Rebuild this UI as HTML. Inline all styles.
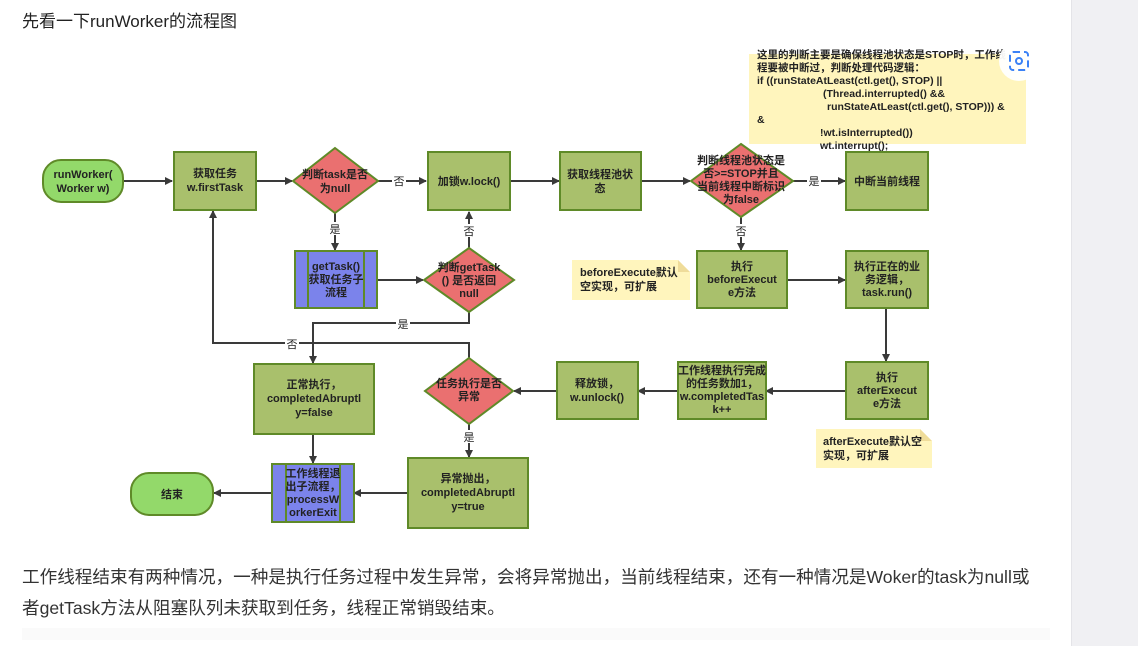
<!DOCTYPE html>
<html><head><meta charset="utf-8"><style>
html,body{margin:0;padding:0;background:#fff;width:1138px;height:646px;overflow:hidden;font-family:"Liberation Sans","Noto Sans CJK SC",sans-serif;}
.side{position:absolute;left:1071px;top:0;width:67px;height:646px;background:#f0f0f3;border-left:1px solid #e4e4e8;}
.title{position:absolute;left:22px;top:7px;font-size:17px;color:#222;white-space:nowrap;}
.p{position:absolute;left:22px;font-size:17.6px;color:#333;white-space:nowrap;}
.foot{position:absolute;left:22px;top:628px;width:1028px;height:12px;background:#fafafa;}
svg{position:absolute;left:0;top:0;}
svg text{font-family:"Liberation Sans","Noto Sans CJK SC",sans-serif;font-size:11px;font-weight:bold;fill:#222;text-anchor:middle;}
.b{fill:#a9c06c;stroke:#5f8a28;stroke-width:2;}
.d{fill:#ea7070;stroke:#5f8a28;stroke-width:2;}
.u{fill:#7b83eb;stroke:#5f8a28;stroke-width:2;}
.s{fill:#93d96a;stroke:#5f8a28;stroke-width:2;}
.n{fill:#fff5bd;}
.l{stroke:#3a3a3a;stroke-width:2;fill:none;marker-end:url(#a);}
.lb{font-weight:normal !important;font-size:11px;}
</style></head><body>
<div class="side"></div>
<div class="title">先看一下runWorker的流程图</div>
<svg width="1138" height="646" viewBox="0 0 1138 646">
<defs><marker id="a" markerWidth="8" markerHeight="8" refX="7" refY="4" orient="auto" markerUnits="userSpaceOnUse"><path d="M0,0 L8,4 L0,8 z" fill="#3a3a3a"/></marker></defs>
<!-- note -->
<rect class="n" x="749" y="54" width="277" height="90"/>
<g style="font-size:10.5px">
<text x="757" y="58" style="text-anchor:start;font-size:10.5px">这里的判断主要是确保线程池状态是STOP时，工作线</text>
<text x="757" y="71" style="text-anchor:start;font-size:10.5px">程要被中断过，判断处理代码逻辑：</text>
<text x="757" y="84" style="text-anchor:start;font-size:10.5px">if ((runStateAtLeast(ctl.get(), STOP) ||</text>
<text x="823" y="97" style="text-anchor:start;font-size:10.5px">(Thread.interrupted() &amp;&amp;</text>
<text x="827" y="110" style="text-anchor:start;font-size:10.5px">runStateAtLeast(ctl.get(), STOP))) &amp;</text>
<text x="757" y="123" style="text-anchor:start;font-size:10.5px">&amp;</text>
<text x="820" y="136" style="text-anchor:start;font-size:10.5px">!wt.isInterrupted())</text>
<text x="820" y="149" style="text-anchor:start;font-size:10.5px">wt.interrupt();</text>
</g>
<circle cx="1019" cy="61" r="20" fill="#fff" opacity="0.95"/>
<rect x="1010" y="52" width="18" height="18" rx="3" fill="none" stroke="#3b82f6" stroke-width="2" stroke-dasharray="7 4"/>
<circle cx="1019" cy="61" r="3" fill="none" stroke="#3b82f6" stroke-width="2"/>
<!-- connectors -->
<path class="l" d="M123,181 H172"/>
<path class="l" d="M256,181 H292"/>
<path class="l" d="M378,181 H426"/>
<path class="l" d="M510,181 H559"/>
<path class="l" d="M641,181 H690"/>
<path class="l" d="M793,181 H845"/>
<path class="l" d="M335,213 V250"/>
<path class="l" d="M377,280 H423"/>
<path class="l" d="M469,248 V212"/>
<path class="l" d="M741,217 V250"/>
<path class="l" d="M787,280 H845"/>
<path class="l" d="M886,308 V361"/>
<path class="l" d="M846,391 H766"/>
<path class="l" d="M678,391 H638"/>
<path class="l" d="M557,391 H514"/>
<path class="l" d="M469,312 V323 H313 V363"/>
<path class="l" d="M469,358 V343 H213 V211"/>
<path class="l" d="M469,422 V457"/>
<path class="l" d="M313,434 V463"/>
<path class="l" d="M408,493 H354"/>
<path class="l" d="M272,493 H214"/>
<!-- labels on lines -->
<rect x="392" y="174" width="14" height="13" fill="#fff"/><text class="lb" x="399" y="185">否</text>
<rect x="328" y="222" width="14" height="13" fill="#fff"/><text class="lb" x="335" y="233">是</text>
<rect x="462" y="224" width="14" height="13" fill="#fff"/><text class="lb" x="469" y="235">否</text>
<rect x="734" y="224" width="14" height="13" fill="#fff"/><text class="lb" x="741" y="235">否</text>
<rect x="807" y="174" width="14" height="13" fill="#fff"/><text class="lb" x="814" y="185">是</text>
<rect x="396" y="317" width="14" height="13" fill="#fff"/><text class="lb" x="403" y="328">是</text>
<rect x="285" y="337" width="14" height="13" fill="#fff"/><text class="lb" x="292" y="348">否</text>
<rect x="462" y="430" width="14" height="13" fill="#fff"/><text class="lb" x="469" y="441">是</text>
<!-- nodes -->
<rect class="s" x="43" y="160" width="80" height="42" rx="18"/>
<text x="83" y="178">runWorker(</text><text x="83" y="192">Worker w)</text>
<rect class="b" x="174" y="152" width="82" height="58"/>
<text x="215" y="177">获取任务</text><text x="215" y="191">w.firstTask</text>
<polygon class="d" points="335,148 378,181 335,213 293,181"/>
<text x="335" y="178">判断task是否</text><text x="335" y="192">为null</text>
<rect class="b" x="428" y="152" width="82" height="58"/>
<text x="469" y="185">加锁w.lock()</text>
<rect class="b" x="560" y="152" width="81" height="58"/>
<text x="600" y="178">获取线程池状</text><text x="600" y="192">态</text>
<polygon class="d" points="741,144 793,181 741,217 691,181"/>
<text x="741" y="164">判断线程池状态是</text><text x="741" y="177">否&gt;=STOP并且</text><text x="741" y="190">当前线程中断标识</text><text x="741" y="203">为false</text>
<rect class="b" x="846" y="152" width="82" height="58"/>
<text x="887" y="185">中断当前线程</text>
<rect class="u" x="295" y="251" width="82" height="57"/>
<line x1="308" y1="251" x2="308" y2="308" stroke="#5f8a28" stroke-width="2"/>
<line x1="364" y1="251" x2="364" y2="308" stroke="#5f8a28" stroke-width="2"/>
<text x="336" y="270">getTask()</text><text x="336" y="283">获取任务子</text><text x="336" y="296">流程</text>
<polygon class="d" points="469,248 514,280 469,312 424,280"/>
<text x="469" y="271">判断getTask</text><text x="469" y="284">() 是否返回</text><text x="469" y="297">null</text>
<path d="M572,260 H678 L690,272 V300 H572 Z" class="n"/>
<path d="M678,260 L690,272 H678 Z" fill="#efdc9a"/>
<text x="580" y="276" style="text-anchor:start">beforeExecute默认</text><text x="580" y="290" style="text-anchor:start">空实现，可扩展</text>
<rect class="b" x="697" y="251" width="90" height="57"/>
<text x="742" y="270">执行</text><text x="742" y="283">beforeExecut</text><text x="742" y="296">e方法</text>
<rect class="b" x="846" y="251" width="82" height="57"/>
<text x="887" y="270">执行正在的业</text><text x="887" y="283">务逻辑，</text><text x="887" y="296">task.run()</text>
<rect class="b" x="846" y="362" width="82" height="57"/>
<text x="887" y="381">执行</text><text x="887" y="394">afterExecut</text><text x="887" y="407">e方法</text>
<rect class="b" x="678" y="362" width="88" height="57"/>
<text x="722" y="374">工作线程执行完成</text><text x="722" y="387">的任务数加1，</text><text x="722" y="400">w.completedTas</text><text x="722" y="413">k++</text>
<rect class="b" x="557" y="362" width="81" height="57"/>
<text x="597" y="387">释放锁，</text><text x="597" y="401">w.unlock()</text>
<polygon class="d" points="469,358 513,391 469,424 425,391"/>
<text x="469" y="387">任务执行是否</text><text x="469" y="400">异常</text>
<rect class="b" x="254" y="364" width="120" height="70"/>
<text x="314" y="388">正常执行，</text><text x="314" y="402">completedAbruptl</text><text x="314" y="416">y=false</text>
<path d="M816,429 H920 L932,441 V468 H816 Z" class="n"/>
<path d="M920,429 L932,441 H920 Z" fill="#efdc9a"/>
<text x="823" y="445" style="text-anchor:start">afterExecute默认空</text><text x="823" y="459" style="text-anchor:start">实现，可扩展</text>
<rect class="b" x="408" y="458" width="120" height="70"/>
<text x="468" y="482">异常抛出，</text><text x="468" y="496">completedAbruptl</text><text x="468" y="510">y=true</text>
<rect class="u" x="272" y="464" width="82" height="58"/>
<line x1="286" y1="464" x2="286" y2="522" stroke="#5f8a28" stroke-width="2"/>
<line x1="340" y1="464" x2="340" y2="522" stroke="#5f8a28" stroke-width="2"/>
<text x="313" y="477">工作线程退</text><text x="313" y="490">出子流程，</text><text x="313" y="503">processW</text><text x="313" y="516">orkerExit</text>
<rect class="s" x="131" y="473" width="82" height="42" rx="18"/>
<text x="172" y="498">结束</text>
</svg>
<div class="p" style="top:564px">工作线程结束有两种情况，一种是执行任务过程中发生异常，会将异常抛出，当前线程结束，还有一种情况是Woker的task为null或</div>
<div class="p" style="top:595px">者getTask方法从阻塞队列未获取到任务，线程正常销毁结束。</div>
<div class="foot"></div>
</body></html>
